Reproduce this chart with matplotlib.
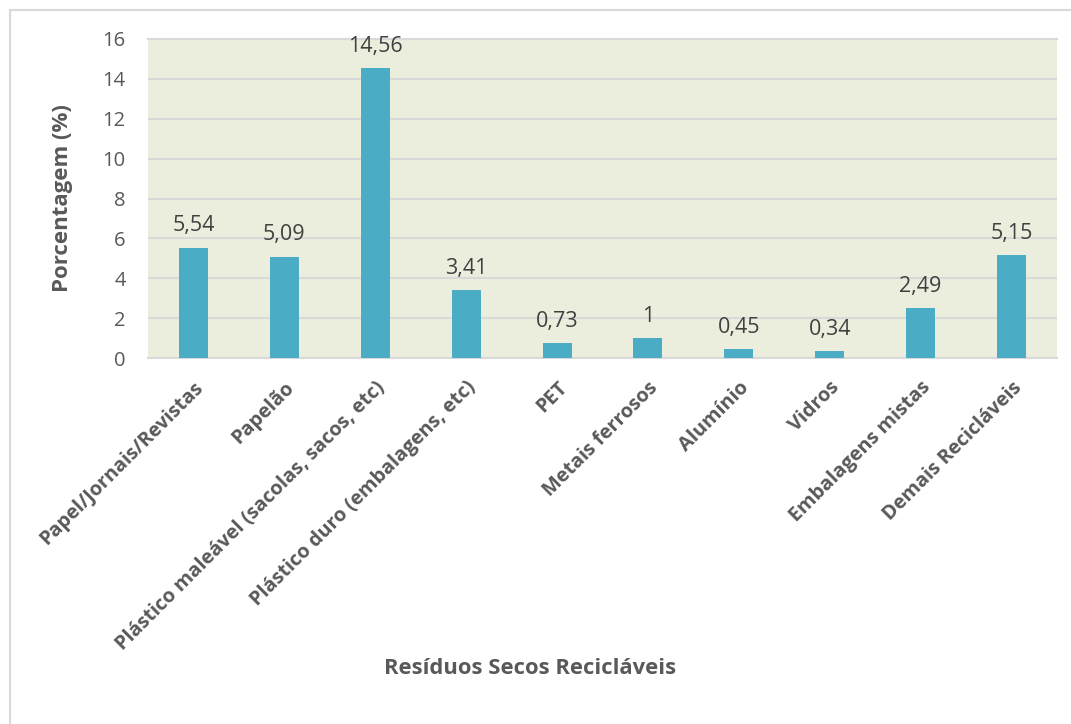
import matplotlib.pyplot as plt
from matplotlib.patches import Rectangle

plt.rcParams['font.family'] = ['Open Sans', 'DejaVu Sans']

categorias = ['Papel/Jornais/Revistas', 'Papelão', 'Plástico maleável (sacolas, sacos, etc)',
              'Plástico duro (embalagens, etc)', 'PET', 'Metais ferrosos', 'Alumínio',
              'Vidros', 'Embalagens mistas', 'Demais Recicláveis']
porcentagem = [5.54, 5.09, 14.56, 3.41, 0.73, 1, 0.45, 0.34, 2.49, 5.15]
yticks = [0, 2, 4, 6, 8, 10, 12, 14, 16]

cor_barra = '#4bacc6'
cor_texto = '#595959'
cor_grade = '#d9d9d9'

fig = plt.figure(figsize=(10.71, 7.24), dpi=100)
# moldura do gráfico
fig.patches.append(Rectangle((10 / 1071, -0.1), 1.2, 1 - 10 / 724 + 0.1,
                             transform=fig.transFigure, fill=False,
                             edgecolor=cor_grade, linewidth=1.5))

ax = fig.add_axes([148 / 1071, 1 - 358 / 724, 909 / 1071, 319 / 724])
ax.set_facecolor('#ebeedd')

x = range(len(categorias))
barras = ax.bar(x, porcentagem, width=0.32, color=cor_barra, zorder=3)

# rótulos de dados com vírgula decimal
for b, v in zip(barras, porcentagem):
    txt = f'{v:g}'.replace('.', ',')
    ax.annotate(txt, (b.get_x() + b.get_width() / 2, v), xytext=(0, 8),
                textcoords='offset points', ha='center', va='bottom',
                fontsize=15.5, color='#404040')

ax.set_xlim(-0.5, len(categorias) - 0.5)
ax.set_ylim(0, 16)
ax.set_yticks(yticks)
ax.set_yticklabels([str(t) for t in yticks], fontsize=14.5, color=cor_texto)
ax.yaxis.grid(True, color=cor_grade, linewidth=1.5, zorder=0)
ax.set_axisbelow(True)

ax.set_xticks(list(x))
ax.set_xticklabels(categorias, rotation=45, ha='right', rotation_mode='anchor',
                   fontsize=14.3, fontweight='bold', color=cor_texto)
ax.tick_params(axis='both', length=0)
ax.tick_params(axis='y', pad=16)
ax.tick_params(axis='x', pad=14)

for s in ['left', 'right']:
    ax.spines[s].set_visible(False)
ax.spines['bottom'].set_color(cor_grade)
ax.spines['bottom'].set_linewidth(1.5)
ax.spines['top'].set_color(cor_grade)
ax.spines['top'].set_linewidth(1.5)

ax.set_ylabel('Porcentagem (%)', fontsize=16, fontweight='bold', color=cor_texto, labelpad=21)
fig.text(530 / 1071, 1 - 668 / 724, 'Resíduos Secos Recicláveis', ha='center', va='center',
         fontsize=15.8, fontweight='bold', color=cor_texto)

fig.savefig('out.png', dpi=100, facecolor='white')
